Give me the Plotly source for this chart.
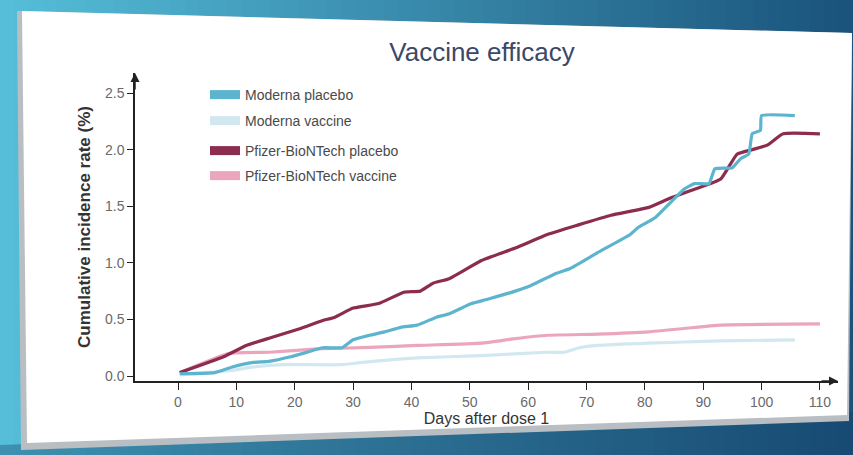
import plotly.graph_objects as go

# ---------------- data ----------------
moderna_placebo_days = [0.3, 6.3, 9.3, 12.9, 15.6, 19.3, 22.1, 24.8, 28.1, 30, 32.8, 35.4, 38.2, 41, 44.3,
                        46.5, 50.3, 53.2, 57.8, 60.5, 64.5, 67.2, 71.9, 77.5, 78.8, 81.8, 86.7, 88.5,
                        91, 92, 95, 96.4, 97.8, 98.4, 99.8, 100, 105.7]
moderna_placebo_vals = [0.02, 0.03, 0.08, 0.12, 0.13, 0.17, 0.21, 0.25, 0.25, 0.32, 0.36, 0.39, 0.43, 0.45, 0.52,
                        0.55, 0.64, 0.68, 0.75, 0.80, 0.90, 0.95, 1.09, 1.25, 1.31, 1.40, 1.65, 1.70,
                        1.70, 1.83, 1.84, 1.92, 1.96, 2.14, 2.17, 2.30, 2.30]

moderna_vaccine_days = [0.3, 9.3, 12.9, 18.3, 28.1, 31.6, 41, 52, 63.3, 66.2, 68.8, 71.9, 80.7, 93, 105.7]
moderna_vaccine_vals = [0.01, 0.05, 0.08, 0.10, 0.10, 0.12, 0.16, 0.18, 0.21, 0.21, 0.25, 0.27, 0.29, 0.31, 0.32]

pfizer_placebo_days = [0.3, 7.8, 11.7, 16.0, 21.0, 24.8, 26.9, 30, 34.4, 38.7, 41.5, 43.7, 46.5, 52, 57.8,
                       63.3, 68.3, 74.2, 80.7, 84.3, 88.5, 93, 95.8, 98.4, 101, 103.7, 110]
pfizer_placebo_vals = [0.03, 0.17, 0.27, 0.34, 0.42, 0.49, 0.52, 0.60, 0.64, 0.74, 0.75, 0.82, 0.86, 1.02, 1.13,
                       1.25, 1.33, 1.42, 1.49, 1.57, 1.65, 1.74, 1.96, 2.00, 2.04, 2.14, 2.14]

pfizer_vaccine_days = [0.3, 8.8, 15.6, 23.8, 31.6, 41, 52, 57.8, 63.3, 71.9, 80.7, 86.7, 93, 110]
pfizer_vaccine_vals = [0.03, 0.20, 0.21, 0.24, 0.25, 0.27, 0.29, 0.33, 0.36, 0.37, 0.39, 0.42, 0.45, 0.46]

series_names = ["Moderna placebo", "Moderna vaccine", "Pfizer-BioNTech placebo", "Pfizer-BioNTech vaccine"]
series_colors = ["#5DB4CE", "#D2E8F1", "#8C2C4E", "#EBA6BD"]

x_ticks = [0, 10, 20, 30, 40, 50, 60, 70, 80, 90, 100, 110]
y_ticks = [0.0, 0.5, 1.0, 1.5, 2.0, 2.5]

title_text = "Vaccine efficacy"
x_title = "Days after dose 1"
y_title = "Cumulative incidence rate (%)"

# ---------------- layout geometry ----------------
W, H = 853, 455
ML, MR, MT, MB = 135, 15, 73, 74
PW, PH = W - ML - MR, H - MT - MB


def px(x):
    return (x - ML) / PW


def py(y):
    return (H - MB - y) / PH


FONT = "Liberation Sans, Arial, sans-serif"

fig = go.Figure()

# data traces
data = [
    (pfizer_vaccine_days, pfizer_vaccine_vals, 3),
    (moderna_vaccine_days, moderna_vaccine_vals, 1),
    (pfizer_placebo_days, pfizer_placebo_vals, 2),
    (moderna_placebo_days, moderna_placebo_vals, 0),
]
for xs, ys, idx in data:
    fig.add_trace(go.Scatter(
        x=xs, y=ys, mode="lines", name=series_names[idx], showlegend=False,
        line=dict(color=series_colors[idx], width=3.2, shape="spline", smoothing=0.4),
        hoverinfo="skip",
    ))

# legend entries (one legend per entry so the spacing can follow the picture)
legend_rows_px = [95, 121, 151, 176]
legend_ids = ["legend", "legend2", "legend3", "legend4"]
for i, name in enumerate(series_names):
    fig.add_trace(go.Scatter(
        x=[None], y=[None], mode="lines", name=name, legend=legend_ids[i],
        line=dict(color=series_colors[i], width=9),
    ))

legend_common = dict(
    xanchor="left", yanchor="middle", bgcolor="rgba(0,0,0,0)", borderwidth=0,
    font=dict(family=FONT, size=14, color="#4a4a4a"), itemwidth=30,
)
for i, lid in enumerate(legend_ids):
    fig.update_layout({lid: dict(x=px(205), y=py(legend_rows_px[i]), **legend_common)})

# ---------------- background: gradient + card ----------------
shapes = []
n = 60
c0 = (86, 190, 217)
c1 = (26, 84, 124)
for i in range(n):
    t = i / (n - 1)
    col = tuple(int(c0[k] + (c1[k] - c0[k]) * t) for k in range(3))
    x0 = i * W / n
    x1 = (i + 1) * W / n + 1
    shapes.append(dict(type="rect", xref="paper", yref="paper", layer="below",
                       x0=px(x0), x1=px(x1), y0=py(H), y1=py(0),
                       line=dict(width=0), fillcolor="rgb(%d,%d,%d)" % col))
# darker band below the card
shapes.append(dict(type="path", xref="paper", yref="paper", layer="below",
                   path="M %f,%f L %f,%f L %f,%f L %f,%f Z" % (px(0), py(445), px(853), py(412), px(853), py(455), px(0), py(455)),
                   line=dict(width=0), fillcolor="rgba(20,60,100,0.35)"))
# card shadow
shapes.append(dict(type="path", xref="paper", yref="paper", layer="below",
                   path="M %f,%f L %f,%f L %f,%f L %f,%f Z" % (px(17), py(11), px(852), py(33), px(849), py(421), px(21), py(450)),
                   line=dict(width=0), fillcolor="#B9BEC3"))
# card
shapes.append(dict(type="path", xref="paper", yref="paper", layer="below",
                   path="M %f,%f L %f,%f L %f,%f L %f,%f Z" % (px(22), py(11), px(852), py(33), px(847), py(415), px(27), py(443)),
                   line=dict(width=0), fillcolor="#FFFFFF"))

fig.update_layout(
    width=W, height=H,
    margin=dict(l=ML, r=MR, t=MT, b=MB, autoexpand=False),
    paper_bgcolor="#2f7fa3", plot_bgcolor="rgba(0,0,0,0)",
    shapes=shapes,
    title=dict(text=title_text, x=482 / W, xanchor="center", y=1 - 52 / H, yanchor="middle",
               font=dict(family=FONT, size=26, color="#3B4868")),
    font=dict(family=FONT),
)

fig.update_xaxes(
    range=[-7.37, 113.1], tickvals=x_ticks, ticktext=[str(v) for v in x_ticks],
    showgrid=False, zeroline=False, showline=True, linecolor="#222", linewidth=1.5,
    ticks="outside", ticklen=7, tickwidth=1.3, tickcolor="#222", automargin=False,
    tickfont=dict(family=FONT, size=14, color="#6a6a6a"),
    title=dict(text=x_title, standoff=2, font=dict(family=FONT, size=16, color="#333")),
)
fig.update_yaxes(
    range=[-0.044, 2.677], tickvals=y_ticks, ticktext=["%.1f" % v for v in y_ticks],
    showgrid=False, zeroline=False, showline=True, linecolor="#222", linewidth=1.5,
    ticks="outside", ticklen=6, tickwidth=1.3, tickcolor="#222", automargin=False,
    tickfont=dict(family=FONT, size=14, color="#6a6a6a"),
    title=dict(text=y_title, standoff=10, font=dict(family=FONT, size=17, color="#333", weight="bold")),
)

# axis arrow heads
fig.add_annotation(xref="paper", yref="paper", x=0, y=1.0, ax=0, ay=18, text="",
                   showarrow=True, arrowhead=2, arrowsize=1.2, arrowwidth=1.5, arrowcolor="#222")
fig.add_annotation(xref="paper", yref="paper", x=1.0, y=0, ax=-18, ay=0, text="",
                   showarrow=True, arrowhead=2, arrowsize=1.2, arrowwidth=1.5, arrowcolor="#222")

fig.write_html("out.html", config={"displayModeBar": False},
               post_script="document.body.style.margin='0';document.body.style.padding='0';")
